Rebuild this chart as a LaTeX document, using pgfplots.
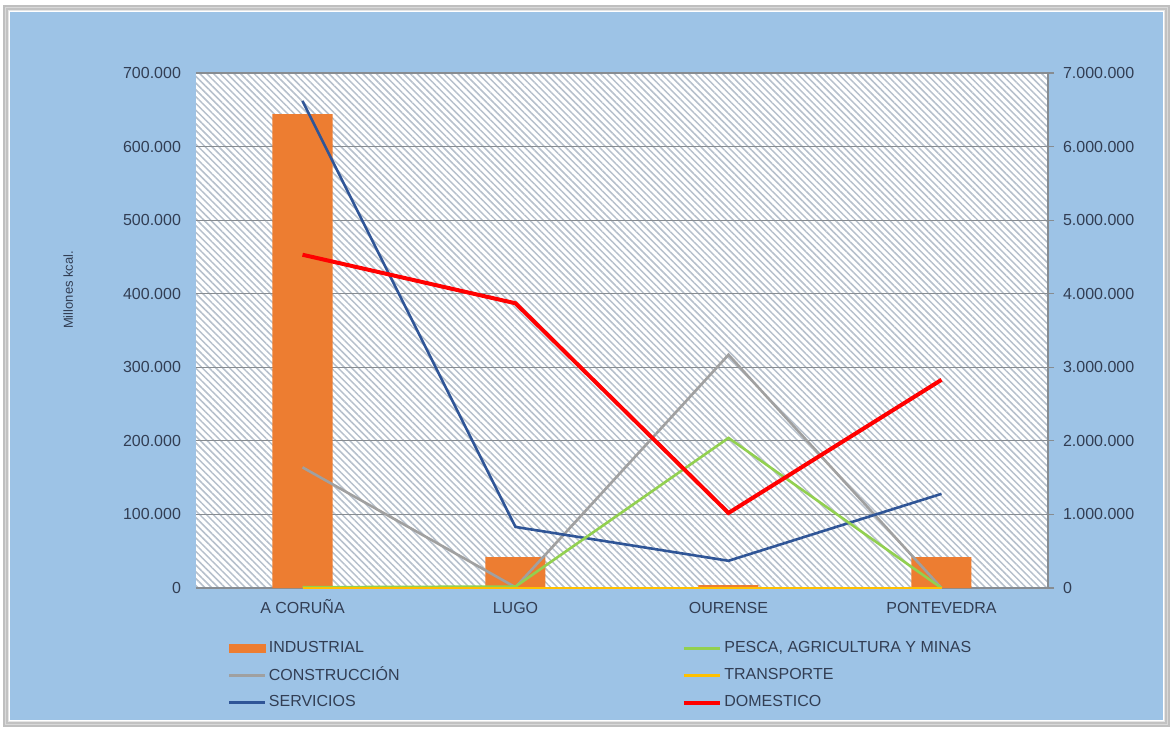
\documentclass[border=0pt]{standalone}
\usepackage{fontspec}
\setmainfont{Liberation Sans}
\usepackage{pgfplots}
\pgfplotsset{compat=1.18}
\usetikzlibrary{patterns.meta}

\definecolor{fondo}{RGB}{157,195,230}
\definecolor{texto}{RGB}{50,62,84}
\definecolor{rejilla}{RGB}{135,140,145}
\definecolor{trama}{RGB}{182,192,204}
\definecolor{industrial}{RGB}{237,125,49}
\definecolor{pesca}{RGB}{146,208,80}
\definecolor{construccion}{RGB}{160,160,160}
\definecolor{transporte}{RGB}{255,192,0}
\definecolor{servicios}{RGB}{47,85,151}
\definecolor{domestico}{RGB}{255,0,0}

\pgfplotsset{
  provincias/.style={
    at={(98pt,70.5pt)}, anchor=south west,
    scale only axis, width=426pt, height=257.5pt,
    xmin=-0.5, xmax=3.5, ymin=0,
    scaled y ticks=false,
    ticklabel style={font=\fontsize{8}{9.5}\selectfont, text=texto},
  },
}

\begin{document}
\begin{tikzpicture}
\useasboundingbox (0,0) rectangle (586.5pt,364.5pt);
\fill[white] (0,0) rectangle (586.5pt,364.5pt);
\foreach \o in {0.10,0.15,0.25} {
  \draw[black, opacity=\o, line width=1.2pt] (5pt-\o*12pt,4.5pt-\o*12pt) rectangle (581.5pt+\o*12pt,358.5pt+\o*12pt);
}
\fill[fondo] (5pt,4.5pt) rectangle (581.5pt,358.5pt);

% eje izquierdo: INDUSTRIAL (barras)
\begin{axis}[
  provincias,
  ymax=700000,
  ytick={0,100000,...,700000},
  yticklabel={\pgfmathprintnumber[fixed,precision=0,1000 sep={.},assume math mode=true]{\tick}},
  yticklabel style={xshift=-4pt},
  xtick={0,1,2,3},
  xticklabels={A CORUÑA,LUGO,OURENSE,PONTEVEDRA},
  xticklabel style={yshift=-1pt, text height=1.6ex, text depth=0pt},
  ytick pos=left, xtick pos=bottom,
  axis line style={draw=none},
  major tick length=0pt,
  ymajorgrids,
  grid style={rejilla, line width=0.6pt},
  axis background/.style={fill=white, postaction={pattern={Lines[angle=-45,distance=2.4pt,line width=0.75pt]}, pattern color=trama}},
  ylabel={Millones kcal.},
  ylabel style={at={(axis description cs:-0.150,0.579)}, anchor=center, font=\fontsize{6.5}{8}\selectfont, text=texto},
  ybar, bar width=30pt,
]
\addplot[fill=industrial, draw=none] coordinates {(0,644000) (1,42000) (2,4000) (3,42000)};
\end{axis}

% eje derecho: resto de sectores (lineas)
\begin{axis}[
  provincias,
  ymax=7000000,
  ytick={0,1000000,...,7000000},
  yticklabel={\pgfmathprintnumber[fixed,precision=0,1000 sep={.},assume math mode=true]{\tick}},
  yticklabel style={xshift=1pt},
  axis x line=none,
  axis y line*=right,
  y axis line style={rejilla, line width=0.6pt, -},
  ytick style={rejilla, line width=0.6pt},
  tick align=outside, major tick length=3pt,
  legend columns=3, transpose legend,
  legend style={at={(axis description cs:0.037,-0.095)}, anchor=north west,
    draw=none, fill=none, font=\fontsize{8}{9.5}\selectfont, text=texto,
    inner sep=0pt, row sep=1.8pt, nodes={inner xsep=1.2pt},
    /tikz/every even column/.append style={column sep=140pt}},
  legend cell align=left,
  legend image code/.code={\draw[#1] (0pt,0pt) -- (18pt,0pt);},
]
\addlegendimage{legend image code/.code={\fill[industrial] (0pt,-2pt) rectangle (18pt,2pt);}}
\addlegendentry{INDUSTRIAL}
\addplot[construccion, line width=1.3pt] coordinates {(0,1640000) (1,10000) (2,3170000) (3,0)};
\addlegendentry{CONSTRUCCIÓN}
\addplot[servicios, line width=1.3pt] coordinates {(0,6620000) (1,830000) (2,370000) (3,1280000)};
\addlegendentry{SERVICIOS}
\addplot[pesca, line width=1.3pt] coordinates {(0,10000) (1,20000) (2,2040000) (3,0)};
\addlegendentry{PESCA, AGRICULTURA Y MINAS}
\addplot[transporte, line width=1.3pt] coordinates {(0,0) (1,0) (2,0) (3,0)};
\addlegendentry{TRANSPORTE}
\addplot[domestico, line width=2pt] coordinates {(0,4530000) (1,3870000) (2,1020000) (3,2830000)};
\addlegendentry{DOMESTICO}
\end{axis}
\end{tikzpicture}
\end{document}
